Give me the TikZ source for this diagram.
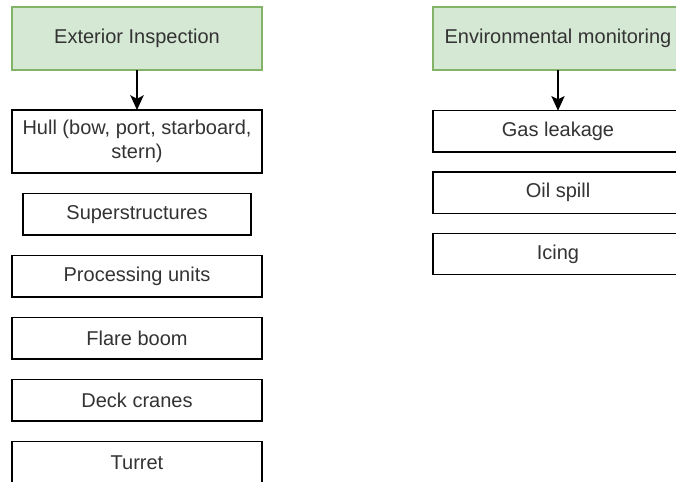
\documentclass[tikz,border=0pt]{standalone}
\usepackage{fontspec}
\setmainfont{Liberation Sans}
\definecolor{headfill}{HTML}{D5E8D4}
\definecolor{headdraw}{HTML}{82B366}
\definecolor{textgray}{gray}{0.2}
\usetikzlibrary{arrows.meta, positioning}

\begin{document}
\begin{tikzpicture}[
  x=0.75pt, y=-0.75pt,
  font=\fontsize{15}{18}\selectfont, text=textgray,
  headbox/.style={fill=headfill, draw=headdraw, line width=1pt, minimum width=187.5pt, minimum height=47.25pt, inner sep=0pt, outer sep=0pt, align=center},
  itembox/.style={draw=black, fill=white, line width=1pt, minimum width=187.5pt, minimum height=31pt, inner sep=0pt, outer sep=0pt, align=center},
  arrow/.style={-{Stealth[length=11pt, width=10pt, inset=2.5pt]}, line width=1pt, color=black}
]
  \useasboundingbox (0,0) rectangle (676,482);

  % left column
  \node[headbox] (ext) at (137,38.5) {Exterior Inspection};
  \node[itembox, minimum height=47.25pt, below=30pt of ext]
    (hull) {Hull (bow, port, starboard,\\stern)};
  \node[itembox, minimum width=171pt, below=15.5pt of hull] (sup) {Superstructures};
  \node[itembox, below=15.5pt of sup] (proc) {Processing units};
  \node[itembox, below=15.5pt of proc] (flare) {Flare boom};
  \node[itembox, below=15.5pt of flare] (crane) {Deck cranes};
  \node[itembox, below=15.5pt of crane] (turret) {Turret};

  % right column
  \node[headbox] (env) at (558,38.5) {Environmental monitoring};
  \node[itembox, below=30.5pt of env] (gas) {Gas leakage};
  \node[itembox, below=15pt of gas] (oil) {Oil spill};
  \node[itembox, below=15pt of oil] (icing) {Icing};

  \draw[arrow] (ext) -- (hull);
  \draw[arrow] (env) -- (gas);
\end{tikzpicture}
\end{document}
